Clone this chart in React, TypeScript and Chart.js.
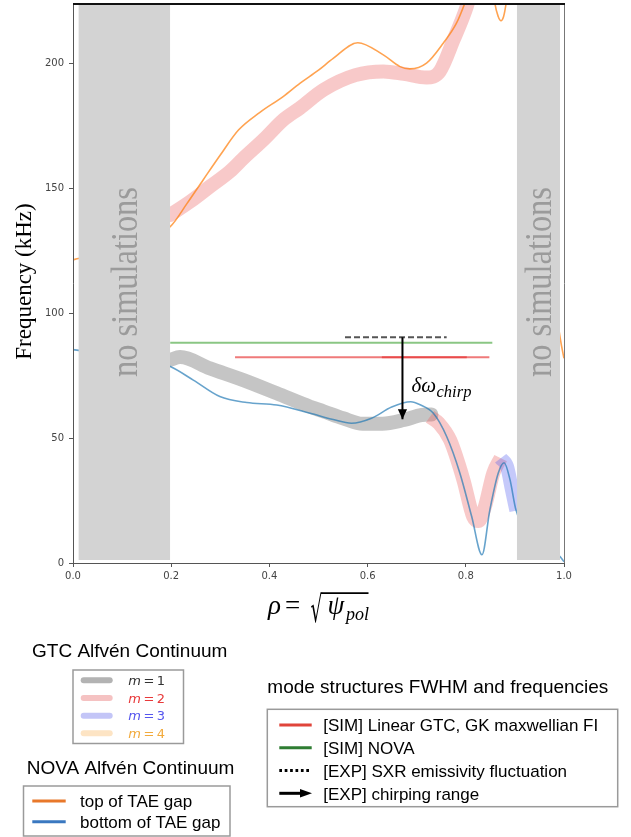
import React, { useEffect, useRef } from 'react';
import { Chart, registerables } from 'chart.js';

Chart.register(...registerables);

// ---------------- axes ----------------
const X_MIN = 0;
const X_MAX = 1;
const Y_MIN = 0;
const Y_MAX = 224;
const X_STEP = 0.2;
const Y_STEP = 50;

// ---------------- NOVA Alfvén continuum ----------------
const novaTopRho = [0, 0.011, 0.05, 0.1, 0.15, 0.198, 0.232, 0.265, 0.3, 0.337, 0.38, 0.428, 0.462, 0.5, 0.53, 0.58, 0.632, 0.666, 0.686, 0.72, 0.754, 0.781, 0.798, 0.815, 0.84, 0.855, 0.8595, 0.866, 0.8717, 0.877, 0.8819, 0.887, 0.9, 0.95, 0.98, 0.99, 0.995, 1.0];
const novaTopFreq = [121.5, 122, 124, 127, 130.5, 134.8, 144, 153.5, 163.5, 173.5, 180.5, 186.9, 192.2, 197.5, 202.2, 208.5, 203.6, 198.9, 198, 200.3, 208.3, 216.3, 224.3, 234, 240, 232, 224, 219, 217.3, 219, 224, 232, 250, 200, 110, 93, 87, 82];

const novaBottomRho = [0, 0.011, 0.05, 0.1, 0.15, 0.198, 0.245, 0.299, 0.354, 0.415, 0.483, 0.53, 0.567, 0.608, 0.649, 0.688, 0.707, 0.734, 0.761, 0.788, 0.812, 0.833, 0.849, 0.866, 0.878, 0.89, 0.902, 0.93, 0.96, 0.99, 1.0];
const novaBottomFreq = [85.5, 85.2, 84.5, 83.5, 81.5, 78.7, 73.3, 66.7, 64.3, 63.3, 60, 57.5, 56, 58, 62.5, 64.6, 63.4, 60, 50.7, 36, 18.6, 3.3, 21.3, 36, 40.2, 33.4, 21.4, 10, 5, 3, 0.5];

// ---------------- GTC Alfvén continuum ----------------
const gtcM1Rho = [0.198, 0.218, 0.279, 0.347, 0.415, 0.483, 0.51, 0.55, 0.59, 0.63, 0.674, 0.71, 0.73];
const gtcM1Freq = [81.4, 82.5, 78, 73.3, 68, 62.6, 60.8, 58, 55.8, 55.8, 57.3, 59.3, 59.5];

const gtcM2UpperRho = [0.198, 0.24, 0.28, 0.32, 0.346, 0.39, 0.428, 0.462, 0.51, 0.575, 0.632, 0.674, 0.72, 0.747, 0.775, 0.802, 0.815];
const gtcM2UpperFreq = [139.5, 145, 151, 157, 162, 170, 177.5, 182.3, 189.6, 195.5, 197, 196, 194.5, 197, 209.6, 223, 232];

const gtcM2LowerRho = [0.727, 0.745, 0.768, 0.795, 0.815, 0.826, 0.839, 0.856, 0.871];
const gtcM2LowerFreq = [58.6, 56, 49.3, 33.4, 18.6, 16.8, 22.6, 36, 42];

const gtcM3Rho = [0.871, 0.884, 0.894, 0.903];
const gtcM3Freq = [42, 38.6, 29.3, 21];

// ---------------- mode structures (FWHM and frequencies) ----------------
const novaModeRho = [0.198, 0.854];
const novaModeFreq = 88.3;
const gtcModeARho = [0.33, 0.848];
const gtcModeBRho = [0.629, 0.802];
const gtcModeFreq = 82.4;
const sxrRho = [0.554, 0.761];
const sxrFreq = 90.5;
const chirpRho = 0.671;
const chirpFreq = [90.5, 57.6];

// ---------------- regions without simulations ----------------
const noSimRegions = [[0.011, 0.198], [0.904, 0.992]];
const noSimTop = 224;
const noSimBottom = 1.2;
const noSimLabel = 'no simulations';

// ---------------- texts ----------------
const yTitle = 'Frequency (kHz)';
const chirpLabel = ['δω', 'chirp'];
const gtcLegendTitle = 'GTC Alfvén Continuum';
const gtcLegendModes = [1, 2, 3, 4];
const novaLegendTitle = 'NOVA Alfvén Continuum';
const novaLegendLabels = ['top of TAE gap', 'bottom of TAE gap'];
const modeLegendTitle = 'mode structures FWHM and frequencies';
const modeLegendLabels = ['[SIM] Linear GTC, GK maxwellian FI', '[SIM] NOVA', '[EXP] SXR emissivity fluctuation', '[EXP] chirping range'];

// ---------------- styles ----------------
const C_ORANGE = 'rgba(255,127,14,0.72)';
const C_BLUE = 'rgba(31,119,180,0.68)';
const C_BAND1 = 'rgba(140,140,140,0.5)';
const C_BAND2 = 'rgba(235,100,100,0.35)';
const C_BAND3 = 'rgba(90,100,240,0.35)';
const C_GREEN_LINE = 'rgba(60,160,50,0.6)';
const C_RED_LINE = 'rgba(230,50,50,0.65)';
const C_NOSIM = '#d3d3d3';
const LEG_PATCH = ['#b3b3b3', '#f5c2c2', '#c3c5f7', '#fde4c4'];
const LEG_TEXT = ['#333333', '#e8393a', '#5555ee', '#f2aa3c'];
const LEG_MODE_COLORS = ['#e0443a', '#2e7d32', '#000000', '#000000'];
const SERIF = '"Liberation Serif", "Times New Roman", serif';
const SANS = '"Liberation Sans", Arial, sans-serif';

const pts = (xs: number[], ys: number[]) => xs.map((x, i) => ({ x, y: ys[i] }));
const hline = (xs: number[], y: number) => xs.map((x) => ({ x, y }));

const base = {
  pointRadius: 0,
  pointHoverRadius: 0,
  fill: false,
};

function buildDatasets() {
  const ds: any[] = [];
  noSimRegions.forEach((r, i) => {
    ds.push({
      ...base,
      label: 'nosim' + i,
      data: hline(r, noSimTop),
      borderWidth: 0,
      borderColor: C_NOSIM,
      backgroundColor: C_NOSIM,
      fill: { value: noSimBottom },
      order: 0,
    });
  });
  ds.push({
    ...base,
    label: 'chirp',
    data: [{ x: chirpRho, y: chirpFreq[0] }, { x: chirpRho, y: chirpFreq[1] }],
    borderColor: '#000',
    borderWidth: 2,
    tension: 0,
    order: 1,
  });
  ds.push({
    ...base,
    label: 'sxr',
    data: hline(sxrRho, sxrFreq),
    borderColor: '#555',
    borderWidth: 2,
    borderDash: [6, 3],
    order: 2,
  });
  ds.push({ ...base, label: 'gtcA', data: hline(gtcModeARho, gtcModeFreq), borderColor: C_RED_LINE, borderWidth: 2, order: 3 });
  ds.push({ ...base, label: 'gtcB', data: hline(gtcModeBRho, gtcModeFreq), borderColor: C_RED_LINE, borderWidth: 2, order: 3 });
  ds.push({ ...base, label: 'nova', data: hline(novaModeRho, novaModeFreq), borderColor: C_GREEN_LINE, borderWidth: 2, order: 4 });
  ds.push({ ...base, label: 'bottom', data: pts(novaBottomRho, novaBottomFreq), borderColor: C_BLUE, borderWidth: 1.6, cubicInterpolationMode: 'monotone', order: 5 });
  ds.push({ ...base, label: 'top', data: pts(novaTopRho, novaTopFreq), borderColor: C_ORANGE, borderWidth: 1.6, cubicInterpolationMode: 'monotone', order: 6 });
  const band = { ...base, borderWidth: 14, borderCapStyle: 'round', borderJoinStyle: 'round', cubicInterpolationMode: 'monotone' };
  ds.push({ ...band, label: 'm3', data: pts(gtcM3Rho, gtcM3Freq), borderColor: C_BAND3, borderCapStyle: 'butt', order: 7 });
  ds.push({ ...band, label: 'm2l', data: pts(gtcM2LowerRho, gtcM2LowerFreq), borderColor: C_BAND2, borderCapStyle: 'butt', order: 8 });
  ds.push({ ...band, label: 'm2u', data: pts(gtcM2UpperRho, gtcM2UpperFreq), borderColor: C_BAND2, order: 8 });
  ds.push({ ...band, label: 'm1', data: pts(gtcM1Rho, gtcM1Freq), borderColor: C_BAND1, order: 9 });
  return ds;
}

function drawLegends(ctx: CanvasRenderingContext2D) {
  ctx.save();
  ctx.textAlign = 'left';
  ctx.textBaseline = 'alphabetic';
  ctx.lineCap = 'butt';

  // GTC
  ctx.fillStyle = '#000';
  ctx.font = `19px ${SANS}`;
  ctx.fillText(gtcLegendTitle, 32, 656.5);
  ctx.strokeStyle = '#9a9a9a';
  ctx.lineWidth = 1.5;
  ctx.strokeRect(73, 670, 110.5, 73.5);
  gtcLegendModes.forEach((m, i) => {
    const cy = 680.3 + i * 17.67;
    ctx.strokeStyle = LEG_PATCH[i];
    ctx.lineWidth = 6;
    ctx.lineCap = 'round';
    ctx.beginPath();
    ctx.moveTo(83.7, cy);
    ctx.lineTo(109.7, cy);
    ctx.stroke();
    ctx.lineCap = 'butt';
    ctx.fillStyle = LEG_TEXT[i];
    let tx = 128.3;
    const by = cy + 4.7;
    ctx.font = 'italic 13px "DejaVu Sans"';
    ctx.fillText('m', tx, by);
    tx += ctx.measureText('m').width + 2.5;
    ctx.font = '13px "DejaVu Sans"';
    ctx.fillText('=', tx, by);
    tx += ctx.measureText('=').width + 2.5;
    ctx.fillText(String(m), tx, by);
  });

  // NOVA
  ctx.fillStyle = '#000';
  ctx.font = `19px ${SANS}`;
  ctx.fillText(novaLegendTitle, 26.7, 774);
  ctx.strokeStyle = '#9a9a9a';
  ctx.lineWidth = 1.5;
  ctx.strokeRect(23.5, 786, 206.5, 50);
  const novaCols = ['#e8782a', '#3a78c0'];
  const novaRows = [801, 821.7];
  novaLegendLabels.forEach((t, i) => {
    ctx.strokeStyle = novaCols[i];
    ctx.lineWidth = 3;
    ctx.beginPath();
    ctx.moveTo(32.3, novaRows[i]);
    ctx.lineTo(65.7, novaRows[i]);
    ctx.stroke();
    ctx.fillStyle = '#000';
    ctx.font = `17px ${SANS}`;
    ctx.fillText(t, 80, novaRows[i] + 6.3);
  });

  // mode structures
  ctx.fillStyle = '#000';
  ctx.font = `19px ${SANS}`;
  ctx.fillText(modeLegendTitle, 267.3, 693.3);
  ctx.strokeStyle = '#9a9a9a';
  ctx.lineWidth = 1.5;
  ctx.strokeRect(267.3, 709.3, 350.4, 97.4);
  modeLegendLabels.forEach((t, i) => {
    const cy = 725 + i * 22.77;
    ctx.strokeStyle = LEG_MODE_COLORS[i];
    ctx.fillStyle = LEG_MODE_COLORS[i];
    ctx.lineWidth = 3;
    ctx.setLineDash(i === 2 ? [2.7, 2.7] : []);
    ctx.beginPath();
    ctx.moveTo(279.3, cy);
    ctx.lineTo(i === 3 ? 301 : 311.7, cy);
    ctx.stroke();
    ctx.setLineDash([]);
    if (i === 3) {
      ctx.beginPath();
      ctx.moveTo(312, cy);
      ctx.lineTo(300, cy - 4.2);
      ctx.lineTo(300, cy + 4.2);
      ctx.closePath();
      ctx.fill();
    }
    ctx.fillStyle = '#000';
    ctx.font = `17px ${SANS}`;
    ctx.fillText(t, 323.3, cy + 6.2);
  });
  ctx.restore();
}

const decorPlugin = {
  id: 'decor',
  afterDatasetsDraw(chart: any) {
    const { ctx, chartArea: ca, scales } = chart;
    const xs = scales.x;
    // arrow head of chirping range
    const idx = chart.data.datasets.findIndex((d: any) => d.label === 'chirp');
    const meta = chart.getDatasetMeta(idx);
    const tip = meta.data[1];
    ctx.save();
    ctx.fillStyle = '#000';
    ctx.beginPath();
    ctx.moveTo(tip.x, tip.y);
    ctx.lineTo(tip.x - 4.6, tip.y - 10);
    ctx.lineTo(tip.x + 4.6, tip.y - 10);
    ctx.closePath();
    ctx.fill();

    // chirp label
    ctx.textAlign = 'left';
    ctx.textBaseline = 'alphabetic';
    ctx.font = `italic 21px ${SERIF}`;
    const lx = tip.x + 9;
    ctx.fillText(chirpLabel[0], lx, 391.7);
    const w0 = ctx.measureText(chirpLabel[0]).width;
    ctx.font = `italic 16.5px ${SERIF}`;
    ctx.fillText(chirpLabel[1], lx + w0 + 0.5, 396.5);

    // no simulations
    const cy = (ca.top + ca.bottom) / 2;
    noSimRegions.forEach((r) => {
      const cx = (xs.getPixelForValue(r[0]) + xs.getPixelForValue(r[1])) / 2;
      ctx.save();
      ctx.translate(cx + 12.8, cy - 1.5);
      ctx.rotate(-Math.PI / 2);
      ctx.scale(0.875, 1);
      ctx.font = `37px ${SERIF}`;
      ctx.fillStyle = '#9b9b9b';
      ctx.textAlign = 'center';
      ctx.fillText(noSimLabel, 0, 0);
      ctx.restore();
    });
    ctx.restore();
  },
  afterDraw(chart: any) {
    const { ctx, chartArea: ca } = chart;
    ctx.save();
    // frame
    ctx.lineWidth = 1;
    ctx.strokeStyle = '#555';
    ctx.beginPath();
    ctx.moveTo(ca.left + 0.5, ca.top);
    ctx.lineTo(ca.left + 0.5, ca.bottom + 0.5);
    ctx.lineTo(ca.right + 0.5, ca.bottom + 0.5);
    ctx.stroke();
    ctx.strokeStyle = '#777';
    ctx.beginPath();
    ctx.moveTo(ca.right + 0.5, ca.top);
    ctx.lineTo(ca.right + 0.5, ca.bottom);
    ctx.stroke();
    ctx.strokeStyle = '#111';
    ctx.lineWidth = 2;
    ctx.beginPath();
    ctx.moveTo(ca.left, ca.top);
    ctx.lineTo(ca.right + 1, ca.top);
    ctx.stroke();

    // y title
    ctx.fillStyle = '#000';
    ctx.save();
    ctx.translate(31, (ca.top + ca.bottom) / 2 - 2);
    ctx.rotate(-Math.PI / 2);
    ctx.font = `23px ${SERIF}`;
    ctx.textAlign = 'center';
    ctx.textBaseline = 'alphabetic';
    ctx.fillText(yTitle, 0, 0);
    ctx.restore();

    // x title  rho = sqrt(psi_pol)
    ctx.textAlign = 'left';
    ctx.textBaseline = 'alphabetic';
    ctx.font = `italic 27px ${SERIF}`;
    ctx.fillText('ρ', 268, 614);
    ctx.font = `27px ${SERIF}`;
    ctx.fillText('=', 285, 614);
    ctx.font = '40px "DejaVu Sans"';
    const m = ctx.measureText('√');
    const gw = m.actualBoundingBoxLeft + m.actualBoundingBoxRight;
    const gh = m.actualBoundingBoxAscent + m.actualBoundingBoxDescent;
    ctx.save();
    ctx.translate(311, 592.3);
    ctx.scale(11.5 / gw, 31 / gh);
    ctx.fillText('√', m.actualBoundingBoxLeft, m.actualBoundingBoxAscent);
    ctx.restore();
    ctx.lineWidth = 1.8;
    ctx.strokeStyle = '#000';
    ctx.beginPath();
    ctx.moveTo(321.5, 593.2);
    ctx.lineTo(368.5, 593.2);
    ctx.stroke();
    ctx.font = `italic 27px ${SERIF}`;
    ctx.fillText('ψ', 327.5, 614);
    ctx.font = `italic 18px ${SERIF}`;
    ctx.fillText('pol', 346, 620);
    ctx.restore();

    drawLegends(ctx);
  },
};

export default function App() {
  const ref = useRef<HTMLCanvasElement>(null);
  useEffect(() => {
    const canvas = ref.current!;
    const chart = new Chart(canvas, {
      type: 'line',
      data: { datasets: buildDatasets() },
      options: {
        responsive: false,
        animation: false,
        devicePixelRatio: 1,
        events: [],
        layout: { padding: { top: 4, right: 67, bottom: 0, left: 0 } },
        plugins: { legend: { display: false }, tooltip: { enabled: false }, title: { display: false } },
        scales: {
          x: {
            type: 'linear',
            min: X_MIN,
            max: X_MAX,
            afterFit: (s: any) => { s.height = 274; s.paddingLeft = 0; s.paddingRight = 0; },
            border: { display: false },
            grid: { display: true, drawOnChartArea: false, drawTicks: true, tickLength: 4, color: '#555' },
            ticks: {
              stepSize: X_STEP,
              padding: 3,
              color: '#444',
              font: { family: 'DejaVu Sans', size: 10 },
              maxRotation: 0,
              callback: (v: any) => Number(v).toFixed(1),
            },
          },
          y: {
            type: 'linear',
            min: Y_MIN,
            max: Y_MAX,
            afterFit: (s: any) => { s.width = 73; s.paddingTop = 0; s.paddingBottom = 0; },
            border: { display: false },
            grid: { display: true, drawOnChartArea: false, drawTicks: true, tickLength: 4, color: '#555' },
            ticks: {
              stepSize: Y_STEP,
              includeBounds: false,
              padding: 5,
              color: '#444',
              font: { family: 'DejaVu Sans', size: 10 },
              callback: (v: any) => String(v),
            },
          },
        },
      } as any,
      plugins: [decorPlugin as any],
    });
    return () => chart.destroy();
  }, []);
  return (
    <div style={{ position: 'absolute', left: 0, top: 0, width: 631, height: 837, background: '#fff' }}>
      <canvas ref={ref} width={631} height={837} style={{ display: 'block', width: 631, height: 837 }} />
    </div>
  );
}
